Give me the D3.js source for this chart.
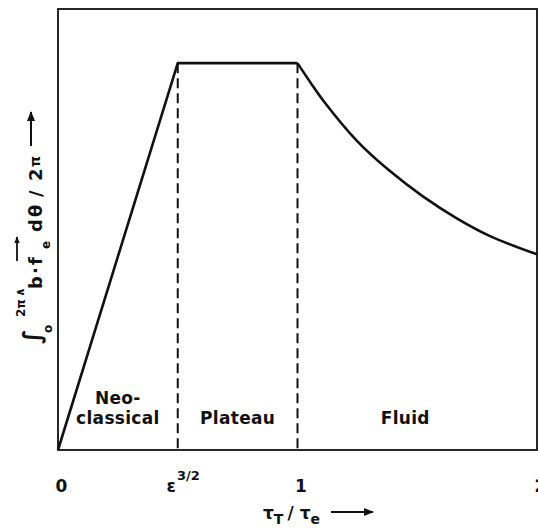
<!DOCTYPE html>
<html>
<head>
<meta charset="utf-8">
<script src="https://cdn.jsdelivr.net/npm/d3@7"></script>
<style>
  html, body { margin: 0; padding: 0; background: #fff; }
  text { font-family: "DejaVu Sans", sans-serif; font-weight: bold; fill: #111; }
</style>
</head>
<body>
<svg id="chart"></svg>
<script>
const width = 538;
const height = 528;
const margin = { top: 9, right: 1, bottom: 78, left: 58 };

// flux-surface averaged parallel flow vs collisionality
const riseX = [0, 0.5, 1.0];
const riseY = [0, 1.0, 1.0];
const decayX = [1.0, 1.053, 1.108, 1.247, 1.386, 1.525, 1.665, 1.804, 2.0];
const decayY = [1.0, 0.951, 0.903, 0.8, 0.721, 0.655, 0.599, 0.553, 0.506];

const boundaries = [0.5, 1.0];
const regionLines = [["Neo-", "classical"], ["Plateau"], ["Fluid"]];
const regionX = [0.25, 0.75, 1.45];

const xTicks = [0, 0.5, 1, 2];
const xTickLabels = ["0", "\u03b5", "1", "2"];
const xTickSups = ["", "3/2", "", ""];

// y title pieces: [text, start (image y), baseline (image x), font size]
const yTitleParts = [
  ["\u222b", 344, 40, 24],
  ["o", 333, 52, 12],
  ["2\u03c0", 317, 25, 12],
  ["\u2227", 297, 24, 12],
  ["b", 289, 42, 18],
  ["\u00b7", 274, 42, 18],
  ["f", 265, 42, 18],
  ["e", 249, 50, 12],
  ["d\u03b8", 232, 42, 18],
  ["/", 197, 42, 18],
  ["2", 181, 42, 18],
  ["\u03c0", 167, 40, 14]
];

const svg = d3.select("#chart").attr("width", width).attr("height", height);

const x = d3.scaleLinear().domain([0, 2]).range([margin.left, width - margin.right]);
const y = d3.scaleLinear().domain([0, 1.14]).range([height - margin.bottom, margin.top]);

const defs = svg.append("defs");
[["arrow", 10], ["arrowSmall", 7]].forEach(([id, s]) => {
  defs.append("marker")
    .attr("id", id)
    .attr("viewBox", "0 0 10 10")
    .attr("refX", 9)
    .attr("refY", 5)
    .attr("markerWidth", s)
    .attr("markerHeight", s)
    .attr("markerUnits", "userSpaceOnUse")
    .attr("orient", "auto")
    .append("path")
    .attr("d", "M0,1 L10,5 L0,9 Z")
    .attr("fill", "#111");
});

// frame
svg.append("rect")
  .attr("x", x(0))
  .attr("y", y(1.14))
  .attr("width", x(2) - x(0))
  .attr("height", y(0) - y(1.14))
  .attr("fill", "none")
  .attr("stroke", "#111")
  .attr("stroke-width", 1.8);

// x axis labels
const xAxisG = svg.append("g")
  .attr("transform", `translate(0,${y(0)})`)
  .call(d3.axisBottom(x).tickValues(xTicks).tickSize(0).tickPadding(30).tickFormat((d, i) => xTickLabels[i]))
  .call((g) => g.select(".domain").remove());

xAxisG.selectAll(".tick text")
  .attr("font-size", 17)
  .attr("font-family", "DejaVu Sans, sans-serif")
  .attr("font-weight", "bold")
  .attr("fill", "#111")
  .attr("dx", (d, i) => (i === 1 ? 5 : 3))
  .each(function (d, i) {
    if (!xTickSups[i]) return;
    d3.select(this).append("tspan")
      .attr("font-size", 13)
      .attr("dy", "-0.95em")
      .attr("dx", 1)
      .text(xTickSups[i]);
  });

// dashed region boundaries
svg.append("g")
  .selectAll("line")
  .data(boundaries)
  .join("line")
  .attr("x1", (d) => x(d))
  .attr("x2", (d) => x(d))
  .attr("y1", y(1))
  .attr("y2", y(0))
  .attr("stroke", "#111")
  .attr("stroke-width", 2)
  .attr("stroke-dasharray", "10,5");

// curve
const line = d3.line().x((d) => x(d[0])).y((d) => y(d[1]));

svg.append("path")
  .datum(d3.zip(riseX, riseY))
  .attr("d", line)
  .attr("fill", "none")
  .attr("stroke", "#111")
  .attr("stroke-width", 2.6)
  .attr("stroke-linejoin", "round");

svg.append("path")
  .datum(d3.zip(decayX, decayY))
  .attr("d", line.curve(d3.curveCatmullRom.alpha(0.5)))
  .attr("fill", "none")
  .attr("stroke", "#111")
  .attr("stroke-width", 2.6);

// region names
regionLines.forEach((lines, i) => {
  lines.forEach((t, j) => {
    svg.append("text")
      .attr("x", x(regionX[i]))
      .attr("y", y(0) - 26 - (lines.length - 1 - j) * 20)
      .attr("text-anchor", "middle")
      .attr("font-size", 17)
      .attr("letter-spacing", 0.3)
      .text(t);
  });
});

// x axis title
const xt = svg.append("text")
  .attr("x", 263)
  .attr("y", 519)
  .attr("font-size", 17);
xt.append("tspan").text("\u03c4");
xt.append("tspan").attr("font-size", 14).attr("dy", 5).text("T");
xt.append("tspan").attr("dy", -5).attr("dx", 4).text("/");
xt.append("tspan").attr("dx", 6).text("\u03c4");
xt.append("tspan").attr("font-size", 14).attr("dy", 5).text("e");

svg.append("line")
  .attr("x1", 331)
  .attr("x2", 373)
  .attr("y1", 512)
  .attr("y2", 512)
  .attr("stroke", "#111")
  .attr("stroke-width", 2)
  .attr("marker-end", "url(#arrow)");

// y axis title
svg.append("g")
  .attr("transform", "rotate(-90)")
  .selectAll("text")
  .data(yTitleParts)
  .join("text")
  .attr("x", (d) => -d[1])
  .attr("y", (d) => d[2])
  .attr("font-size", (d) => d[3])
  .attr("letter-spacing", (d) => (d[0] === "d\u03b8" ? 2 : 0))
  .text((d) => d[0]);

// vector arrow over f
svg.append("line")
  .attr("x1", 17)
  .attr("x2", 17)
  .attr("y1", 261)
  .attr("y2", 237)
  .attr("stroke", "#111")
  .attr("stroke-width", 1.8)
  .attr("marker-end", "url(#arrowSmall)");

svg.append("line")
  .attr("x1", 31)
  .attr("x2", 31)
  .attr("y1", 146)
  .attr("y2", 112)
  .attr("stroke", "#111")
  .attr("stroke-width", 2)
  .attr("marker-end", "url(#arrow)");
</script>
</body>
</html>
